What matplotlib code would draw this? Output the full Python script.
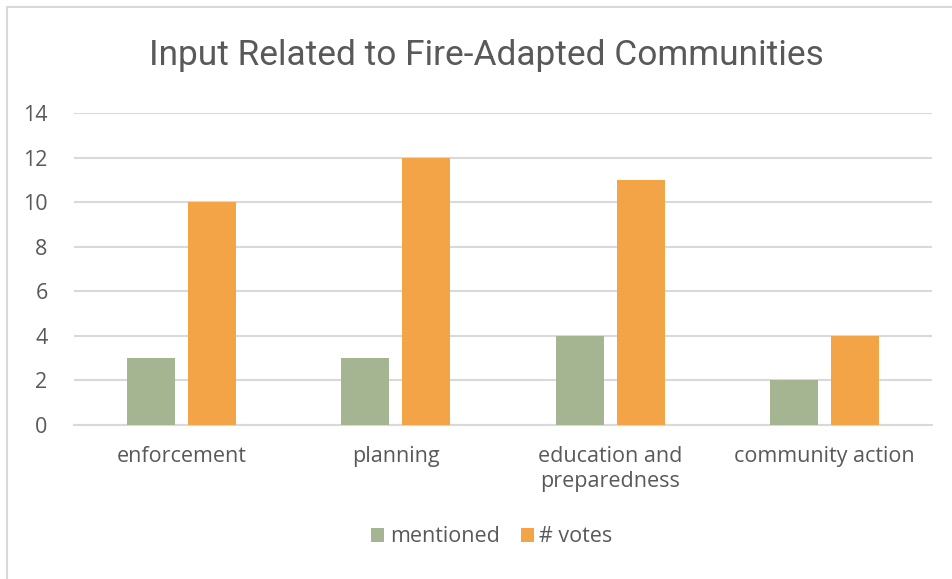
import matplotlib
matplotlib.use("Agg")
import matplotlib.pyplot as plt
import numpy as np

categories = ["enforcement", "planning", "education and\npreparedness", "community action"]
mentioned = [3, 3, 4, 2]
votes = [10, 12, 11, 4]
series_names = ["mentioned", "# votes"]
yticks = [0, 2, 4, 6, 8, 10, 12, 14]

title_font = "Roboto"
body_font = "Open Sans"

W, H = 952, 579
fig = plt.figure(figsize=(W/100, H/100), dpi=100)
txt = "#595959"
green = "#A5B592"
orange = "#F3A447"

# chart border (top and left visible)
fig.add_artist(plt.Line2D([7/W, 1], [1-7/H, 1-7/H], color="#D9D9D9", lw=1.5))
fig.add_artist(plt.Line2D([7/W, 7/W], [0, 1-7/H], color="#D9D9D9", lw=1.5))

x0, x1 = 74, 932
ytop, ybot = 113, 425
ax = fig.add_axes([x0/W, 1-ybot/H, (x1-x0)/W, (ybot-ytop)/H])
x = np.arange(len(categories))
bw = 0.224
off = 0.142
ax.bar(x-off, mentioned, bw, color=green, label=series_names[0], zorder=3)
ax.bar(x+off, votes, bw, color=orange, label=series_names[1], zorder=3)
ax.set_xlim(-0.5, len(categories)-0.5)
ax.set_ylim(0, 14)
ax.set_yticks(yticks)
ax.yaxis.grid(True, color="#D9D9D9", lw=1.5, zorder=0)
for s in ["top", "right", "left"]:
    ax.spines[s].set_visible(False)
ax.spines["bottom"].set_color("#D9D9D9")
ax.spines["bottom"].set_linewidth(1.5)
ax.tick_params(length=0, colors=txt, labelsize=15.5)
ax.tick_params(axis="y", pad=19)
ax.tick_params(axis="x", pad=15)
ax.set_xticks(x)
ax.set_xticklabels(categories, fontfamily=body_font, color=txt, linespacing=1.25)
for lbl in ax.get_yticklabels():
    lbl.set_fontfamily(body_font)

fig.text(486/W, 1-55/H, "Input Related to Fire-Adapted Communities", ha="center", va="center",
         fontsize=25.4, color=txt, fontfamily=title_font)

leg = fig.legend(loc="center", bbox_to_anchor=(492/W, 1-537/H), ncol=2, frameon=False,
                 prop={"family": body_font, "size": 15.5}, labelcolor=txt,
                 handlelength=0.6, handleheight=0.6, handletextpad=0.25, columnspacing=1.0)
fig.savefig("out.png", dpi=100)
